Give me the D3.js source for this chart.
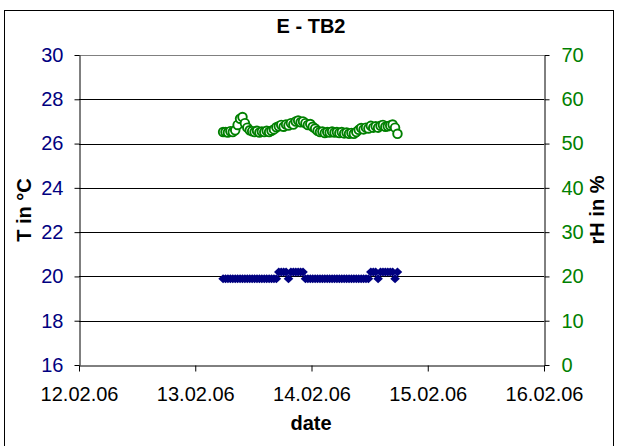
<!DOCTYPE html>
<html>
<head>
<meta charset="utf-8">
<script src="https://cdn.jsdelivr.net/npm/d3@7"></script>
<style>
  html, body { margin: 0; padding: 0; background: #fff; }
  svg { display: block; font-family: "Liberation Sans", Arial, sans-serif; }
</style>
</head>
<body>
<svg id="chart" width="618" height="446"></svg>
<script>
// Logger record E - TB2: half-hourly samples, 13.02.06 05:45 to 14.02.06 17:45
const sampleStart = new Date(2006, 1, 13, 5, 45);
const sampleStepMinutes = 30;

// Temperature in °C
const temperature = [
  19.9, 19.9, 19.9, 19.9, 19.9, 19.9, 19.9, 19.9, 19.9, 19.9,
  19.9, 19.9, 19.9, 19.9, 19.9, 19.9, 19.9, 19.9, 19.9, 19.9,
  19.9, 19.9, 19.9, 20.2, 20.2, 20.2, 20.2, 19.9, 20.2, 20.2,
  20.2, 20.2, 20.2, 20.2, 19.9, 19.9, 19.9, 19.9, 19.9, 19.9,
  19.9, 19.9, 19.9, 19.9, 19.9, 19.9, 19.9, 19.9, 19.9, 19.9,
  19.9, 19.9, 19.9, 19.9, 19.9, 19.9, 19.9, 19.9, 19.9, 19.9,
  19.9, 20.2, 20.2, 20.2, 19.9, 20.2, 20.2, 20.2, 20.2, 20.2,
  20.2, 19.9, 20.2
];

// Relative humidity in %
const humidity = [
  52.6, 52.6, 52.5, 52.8, 52.6, 53.0, 54.2, 55.6, 56.0, 54.6,
  53.6, 53.0, 52.8, 52.6, 52.9, 52.5, 52.7, 52.6, 52.9, 52.6,
  52.9, 53.2, 53.7, 53.9, 54.2, 53.8, 54.3, 54.1, 54.6, 54.3,
  55.0, 55.2, 54.8, 55.0, 54.6, 54.2, 54.4, 53.8, 53.4, 52.9,
  52.6, 52.7, 52.4, 52.6, 52.5, 52.7, 52.5, 52.6, 52.4, 52.6,
  52.3, 52.5, 52.2, 52.4, 52.2, 52.6, 53.1, 53.5, 53.2, 53.6,
  53.4, 54.0, 53.6, 53.9, 53.6, 54.0, 54.2, 53.8, 53.9, 54.1,
  54.3, 53.6, 52.2
];

const dateTicks = [
  new Date(2006, 1, 12), new Date(2006, 1, 13), new Date(2006, 1, 14),
  new Date(2006, 1, 15), new Date(2006, 1, 16)
];
const tempTicks = [16, 18, 20, 22, 24, 26, 28, 30];
const humTicks = [0, 10, 20, 30, 40, 50, 60, 70];

const titleText = "E - TB2";
const xTitle = "date";
const yLeftTitle = "T in °C";
const yRightTitle = "rH in %";

const navy = "#000080";
const green = "#008000";

const svg = d3.select("#chart");

// chart frame
svg.append("rect")
  .attr("x", 4.5).attr("y", 10.5)
  .attr("width", 609).attr("height", 440)
  .attr("fill", "#fff").attr("stroke", "#000").attr("stroke-width", 1);

const plot = { left: 79, right: 544, top: 55, bottom: 365 };

const x = d3.scaleTime()
  .domain([dateTicks[0], dateTicks[dateTicks.length - 1]])
  .range([plot.left, plot.right]);
const yT = d3.scaleLinear().domain([16, 30]).range([plot.bottom, plot.top]);
const yH = d3.scaleLinear().domain([0, 70]).range([plot.bottom, plot.top]);

const times = temperature.map((_, i) => d3.timeMinute.offset(sampleStart, i * sampleStepMinutes));

// horizontal gridlines
svg.append("g")
  .selectAll("line")
  .data(tempTicks.filter(t => t > 16))
  .join("line")
  .attr("x1", plot.left).attr("x2", plot.right)
  .attr("y1", d => Math.round(yT(d)) + 0.5)
  .attr("y2", d => Math.round(yT(d)) + 0.5)
  .attr("stroke", d => d === 30 ? "#808080" : "#000")
  .attr("stroke-width", 1);

// axes
function styleAxis(g, color) {
  g.selectAll(".domain").attr("stroke", "#000");
  g.selectAll(".tick line").attr("stroke", "#000");
  g.selectAll(".tick text")
    .attr("fill", color)
    .style("font-size", "20px")
    .style("font-family", "'Liberation Sans', Arial, sans-serif");
}

svg.append("g")
  .attr("transform", `translate(${plot.left + 0.5},0)`)
  .call(d3.axisLeft(yT).tickValues(tempTicks).tickSize(5).tickPadding(11).tickSizeOuter(0))
  .call(g => styleAxis(g, navy));

svg.append("g")
  .attr("transform", `translate(${plot.right + 0.5},0)`)
  .call(d3.axisRight(yH).tickValues(humTicks).tickSize(5).tickPadding(12).tickSizeOuter(0))
  .call(g => styleAxis(g, green));

svg.append("g")
  .attr("transform", `translate(0,${plot.bottom + 0.5})`)
  .call(d3.axisBottom(x).tickValues(dateTicks).tickFormat(d3.timeFormat("%d.%m.%y"))
    .tickSize(6).tickPadding(15).tickSizeOuter(0))
  .call(g => styleAxis(g, "#000"));

// humidity: hollow circles
svg.append("g")
  .selectAll("circle")
  .data(humidity)
  .join("circle")
  .attr("cx", (d, i) => x(times[i]))
  .attr("cy", d => yH(d))
  .attr("r", 4.3)
  .attr("fill", "#fff")
  .attr("stroke", green)
  .attr("stroke-width", 1.9);

// temperature: filled diamonds
const diamond = "M0,-4.5L4.8,0L0,4.5L-4.8,0Z";
svg.append("g")
  .selectAll("path")
  .data(temperature)
  .join("path")
  .attr("d", diamond)
  .attr("transform", (d, i) => `translate(${x(times[i])},${yT(d)})`)
  .attr("fill", navy);

// titles
svg.append("text")
  .attr("x", 311).attr("y", 33)
  .attr("text-anchor", "middle")
  .style("font-size", "20px").style("font-weight", "bold")
  .text(titleText);

svg.append("text")
  .attr("x", 311).attr("y", 430)
  .attr("text-anchor", "middle")
  .style("font-size", "20px").style("font-weight", "bold")
  .text(xTitle);

svg.append("text")
  .attr("transform", "translate(31,210) rotate(-90)")
  .attr("text-anchor", "middle")
  .style("font-size", "20px").style("font-weight", "bold")
  .text(yLeftTitle);

svg.append("text")
  .attr("transform", "translate(604,210) rotate(-90)")
  .attr("text-anchor", "middle")
  .style("font-size", "20px").style("font-weight", "bold")
  .text(yRightTitle);
</script>
</body>
</html>
